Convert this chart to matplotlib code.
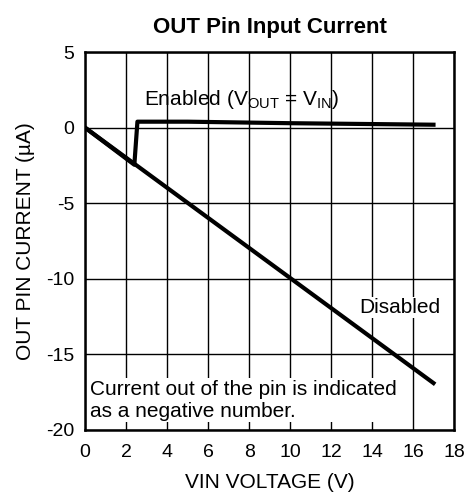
import matplotlib
matplotlib.use("Agg")
import matplotlib.pyplot as plt
import numpy as np

plt.rcParams["font.family"] = ["Liberation Sans", "DejaVu Sans"]
plt.rcParams["mathtext.fontset"] = "custom"
plt.rcParams["mathtext.rm"] = "Liberation Sans"
plt.rcParams["mathtext.it"] = "Liberation Sans"
plt.rcParams["axes.unicode_minus"] = False

# data
disabled_v = [0.0, 17.0]
disabled_i = [0.0, -16.9]
enabled_v = [0.0, 2.4, 2.55, 5.0, 10.0, 17.0]
enabled_i = [0.0, -2.45, 0.4, 0.4, 0.3, 0.2]

x_ticks = np.arange(0, 19, 2)
y_ticks = np.arange(-20, 6, 5)

fig = plt.figure(figsize=(4.68, 4.97), dpi=100)
ax = fig.add_axes([0.182, 0.135, 0.788, 0.76])

ax.plot(disabled_v, disabled_i, color="black", linewidth=3, zorder=3)
ax.plot(enabled_v, enabled_i, color="black", linewidth=3, zorder=3)

ax.set_xlim(0, 18)
ax.set_ylim(-20, 5)
ax.set_xticks(x_ticks)
ax.set_yticks(y_ticks)
ax.tick_params(length=0, labelsize=14)
ax.tick_params(axis="x", pad=10)
ax.tick_params(axis="y", pad=8)
ax.grid(True, color="black", linewidth=1)
ax.set_axisbelow(True)
for s in ax.spines.values():
    s.set_linewidth(1.8)

ax.set_xlabel("VIN VOLTAGE (V)", fontsize=15, labelpad=9)
ax.set_ylabel("OUT PIN CURRENT (µA)", fontsize=15, labelpad=8)
ax.set_title("OUT Pin Input Current", fontsize=16, fontweight="bold", pad=14)

ax.text(2.85, 1.9, r"Enabled (V$_{\mathregular{OUT}}$ = V$_{\mathregular{IN}}$)",
        fontsize=15, va="center", ha="left")
ax.text(17.35, -11.9, "Disabled", fontsize=15, va="center", ha="right",
        bbox=dict(facecolor="white", edgecolor="none", pad=1))
ax.text(0.25, -18.05, "Current out of the pin is indicated\nas a negative number.",
        fontsize=15, va="center", ha="left", linespacing=1.2, zorder=4,
        bbox=dict(facecolor="white", edgecolor="none", pad=1))

fig.savefig("out.png", dpi=100)
